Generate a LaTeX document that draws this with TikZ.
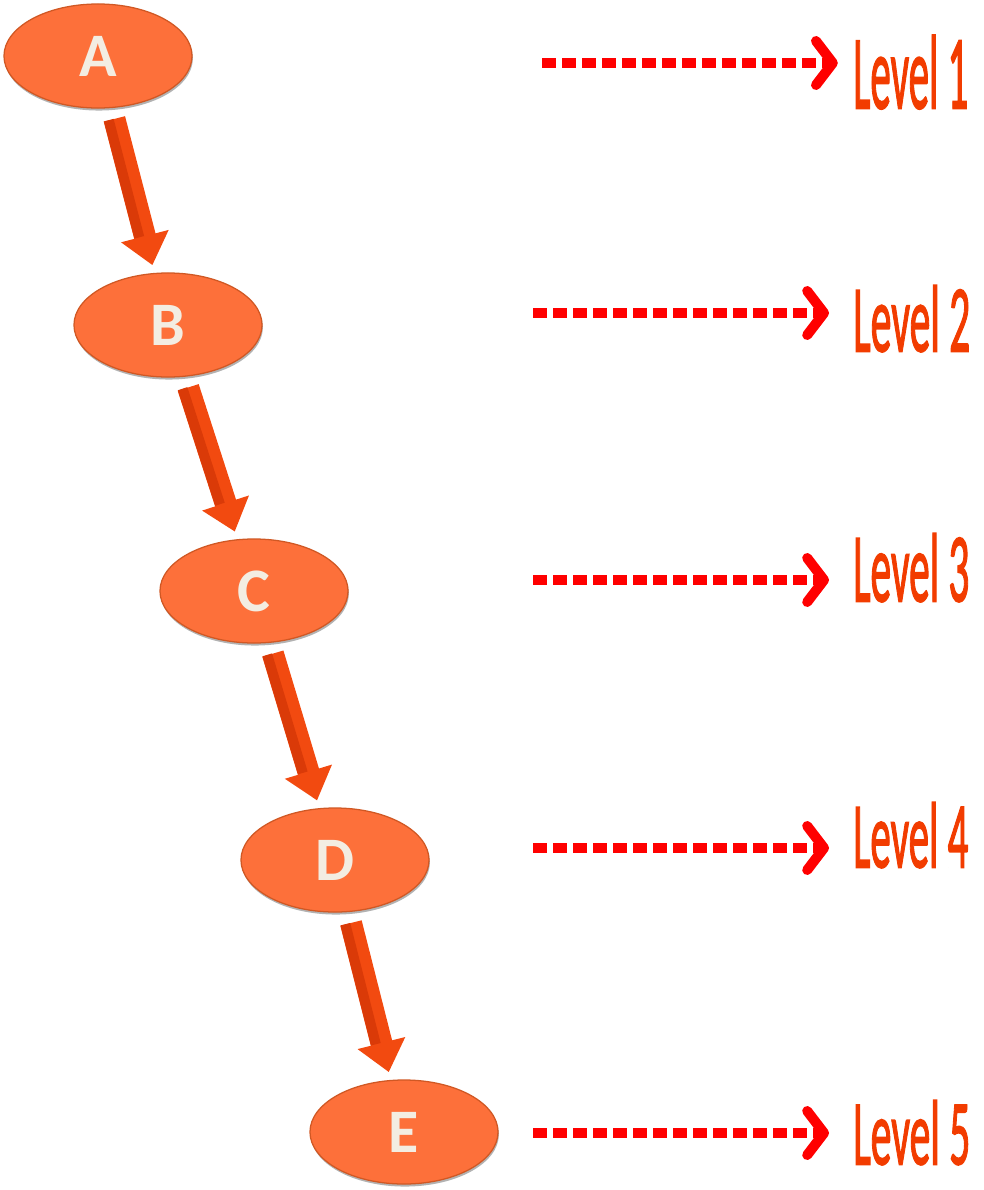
\documentclass[tikz,border=0pt]{standalone}
\usepackage{fontspec}
\usepackage{graphicx}
\setmainfont{Carlito}
\newfontfamily\levelfont[FakeBold=2]{Carlito}
\usetikzlibrary{arrows.meta,shapes.geometric,shadows}
\definecolor{nodefill}{RGB}{253,112,58}
\definecolor{nodeedge}{RGB}{208,88,36}
\definecolor{nodetext}{RGB}{243,237,226}
\definecolor{blockred}{RGB}{242,74,16}
\definecolor{blockdark}{RGB}{218,58,8}
\definecolor{levelred}{RGB}{242,60,0}
\begin{document}
\begin{tikzpicture}[x=0.025cm,y=-0.025cm,
  vertex/.style={ellipse, minimum width=4.7cm, minimum height=2.6cm, inner sep=0pt,
    fill=nodefill, draw=nodeedge, line width=0.9pt, text=nodetext,
    font=\bfseries\fontsize{44}{44}\selectfont,
    drop shadow={shadow xshift=0.6pt, shadow yshift=-1.8pt, fill=black, opacity=0.3}},
  down/.style={draw=blockred, line width=0.55cm, -{Triangle[width=1.18cm,length=0.75cm]},
    shorten <=0.28cm, shorten >=0.2cm},
  facet/.style={draw=blockdark, line width=0.25cm, shorten <=0.28cm, shorten >=0.95cm,
    transform canvas={xshift=-0.14cm, yshift=-0.03cm}},
  dots/.style={draw=red, line width=0.27cm, dash pattern=on 0.35cm off 0.15cm,
    -{Straight Barb[width=1.1cm,length=0.42cm,line width=0.25cm,round]}},
  tag/.style={anchor=north west, inner sep=0pt, text=levelred, font=\levelfont}]
  \useasboundingbox (0,0) rectangle (984,1190);

  \node[vertex] (A) at (98,56) {A};
  \node[vertex] (B) at (168,325) {B};
  \node[vertex] (C) at (254,591) {C};
  \node[vertex] (D) at (335,860) {D};
  \node[vertex] (E) at (404,1132) {E};

  \draw[down] (A) -- (B);
  \draw[down] (B) -- (C);
  \draw[down] (C) -- (D);
  \draw[down] (D) -- (E);
  \draw[facet] (A) -- (B);
  \draw[facet] (B) -- (C);
  \draw[facet] (C) -- (D);
  \draw[facet] (D) -- (E);

  \node[tag] (l1) at (853,35) {\resizebox{2.875cm}{1.825cm}{Level 1}};
  \node[tag] (l2) at (853,285) {\resizebox{2.925cm}{1.65cm}{Level 2}};
  \node[tag] (l3) at (853,533) {\resizebox{2.9cm}{1.7cm}{Level 3}};
  \node[tag] (l4) at (853,802) {\resizebox{2.875cm}{1.625cm}{Level 4}};
  \node[tag] (l5) at (853,1100) {\resizebox{2.925cm}{1.6cm}{Level 5}};

  \coordinate (s1) at (542,63);
  \coordinate (s2) at (533,313);
  \coordinate (s3) at (533,580);
  \coordinate (s4) at (533,848);
  \coordinate (s5) at (533,1133);
  \draw[dots, shorten >=0.38cm] (s1) -- (s1 -| l1.west);
  \draw[dots, shorten >=0.6cm] (s2) -- (s2 -| l2.west);
  \draw[dots, shorten >=0.6cm] (s3) -- (s3 -| l3.west);
  \draw[dots, shorten >=0.6cm] (s4) -- (s4 -| l4.west);
  \draw[dots, shorten >=0.6cm] (s5) -- (s5 -| l5.west);
\end{tikzpicture}
\end{document}
